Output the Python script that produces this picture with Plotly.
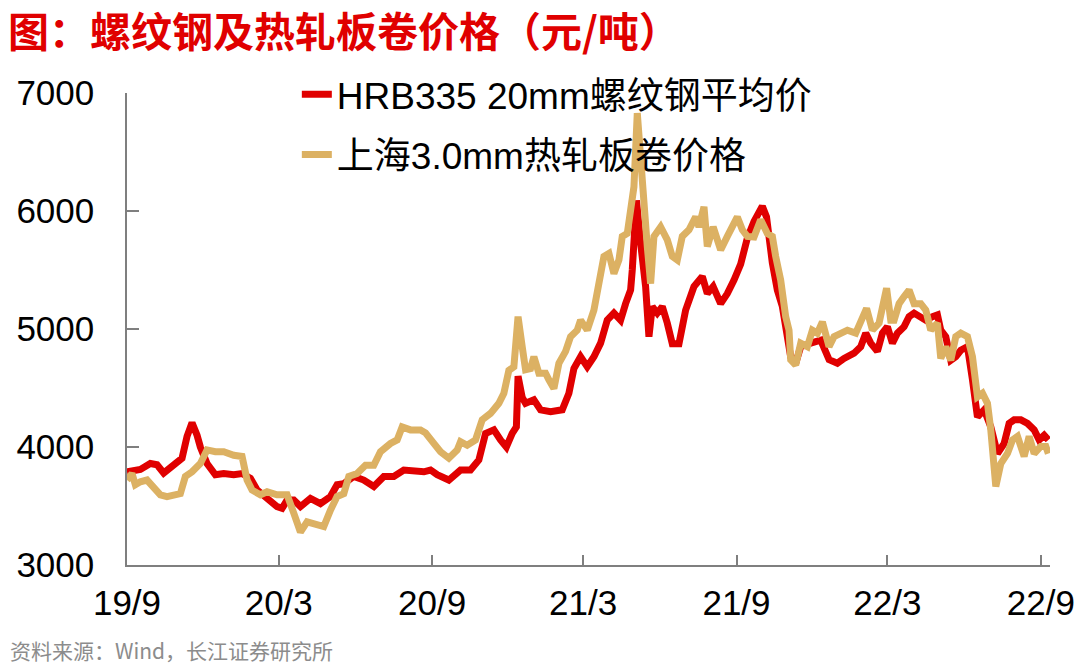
import plotly.graph_objects as go

# ---------------- data ----------------
hrb_dates = [
    "2019-09-01", "2019-09-09", "2019-09-17", "2019-09-29", "2019-10-07", "2019-10-15", "2019-10-23", "2019-10-31",
    "2019-11-06", "2019-11-12", "2019-11-18", "2019-11-24", "2019-11-28", "2019-12-06", "2019-12-16", "2019-12-26",
    "2020-01-07", "2020-01-17", "2020-01-27", "2020-02-04", "2020-02-16", "2020-02-28", "2020-03-05", "2020-03-11",
    "2020-03-19", "2020-03-27", "2020-04-08", "2020-04-20", "2020-05-02", "2020-05-10", "2020-05-18", "2020-05-30",
    "2020-06-11", "2020-06-23", "2020-07-05", "2020-07-17", "2020-07-29", "2020-08-10", "2020-08-22", "2020-08-30",
    "2020-09-07", "2020-09-21", "2020-10-05", "2020-10-17", "2020-10-27", "2020-11-04", "2020-11-14", "2020-11-22",
    "2020-11-29", "2020-12-06", "2020-12-11", "2020-12-13", "2020-12-15", "2020-12-18", "2020-12-22", "2021-01-01",
    "2021-01-09", "2021-01-21", "2021-02-04", "2021-02-12", "2021-02-18", "2021-02-26", "2021-03-06", "2021-03-14",
    "2021-03-22", "2021-03-30", "2021-04-07", "2021-04-15", "2021-04-21", "2021-04-27", "2021-04-29", "2021-05-01",
    "2021-05-04", "2021-05-09", "2021-05-15", "2021-05-19", "2021-05-23", "2021-05-29", "2021-06-04", "2021-06-10",
    "2021-06-16", "2021-06-24", "2021-07-02", "2021-07-12", "2021-07-22", "2021-07-28", "2021-08-04", "2021-08-13",
    "2021-08-21", "2021-08-29", "2021-09-06", "2021-09-14", "2021-09-22", "2021-10-02", "2021-10-07", "2021-10-14",
    "2021-10-20", "2021-10-26", "2021-10-30", "2021-11-05", "2021-11-11", "2021-11-17", "2021-11-29", "2021-12-11",
    "2021-12-21", "2021-12-31", "2022-01-08", "2022-01-20", "2022-01-28", "2022-02-03", "2022-02-09", "2022-02-17",
    "2022-02-23", "2022-03-01", "2022-03-07", "2022-03-13", "2022-03-21", "2022-03-27", "2022-04-02", "2022-04-08",
    "2022-04-16", "2022-04-24", "2022-04-30", "2022-05-04", "2022-05-10", "2022-05-16", "2022-05-22", "2022-05-28",
    "2022-06-05", "2022-06-11", "2022-06-17", "2022-06-25", "2022-07-03", "2022-07-11", "2022-07-19", "2022-07-25",
    "2022-07-31", "2022-08-08", "2022-08-16", "2022-08-24", "2022-08-30", "2022-09-05", "2022-09-10",
]
hrb_values = [
    3790, 3805, 3810, 3860, 3850, 3780, 3820, 3875,
    3905, 4090, 4205, 4100, 4000, 3860, 3765, 3775,
    3765, 3775, 3735, 3635, 3565, 3495, 3480, 3550,
    3550, 3495, 3565, 3520, 3580, 3680, 3690, 3750,
    3720, 3665, 3750, 3750, 3805, 3790, 3790, 3805,
    3765, 3720, 3805, 3805, 3890, 4115, 4145, 4060,
    4000, 4115, 4170, 4600, 4480, 4420, 4370, 4400,
    4315, 4300, 4315, 4455, 4665, 4765, 4680, 4765,
    4880, 5075, 5135, 5075, 5215, 5330, 5500, 5800,
    6090, 5730, 5360, 4935, 5190, 5135, 5190, 5050,
    4875, 4875, 5160, 5360, 5445, 5300, 5360, 5215,
    5300, 5415, 5550, 5770, 5910, 6040, 5950, 5560,
    5330, 5190, 5020, 4765, 4710, 4850, 4880, 4905,
    4740, 4710, 4750, 4795, 4850, 4965, 4880, 4810,
    4965, 5020, 4880, 4965, 5020, 5105, 5135, 5105,
    5075, 5105, 5120, 4990, 4935, 4735, 4765, 4820,
    4850, 4570, 4255, 4315, 4170, 3945, 4030, 4200,
    4230, 4230, 4200, 4145, 4060, 4100, 4060,
]

hrc_dates = [
    "2019-09-01", "2019-09-07", "2019-09-11", "2019-09-17", "2019-09-25", "2019-10-03", "2019-10-11", "2019-10-19",
    "2019-10-27", "2019-11-04", "2019-11-10", "2019-11-18", "2019-11-28", "2019-12-06", "2019-12-16", "2019-12-26",
    "2020-01-07", "2020-01-17", "2020-01-23", "2020-01-29", "2020-02-08", "2020-02-16", "2020-02-28", "2020-03-11",
    "2020-03-19", "2020-03-27", "2020-04-04", "2020-04-16", "2020-04-24", "2020-05-02", "2020-05-10", "2020-05-18",
    "2020-05-24", "2020-06-03", "2020-06-13", "2020-06-23", "2020-07-01", "2020-07-13", "2020-07-21", "2020-07-27",
    "2020-08-06", "2020-08-18", "2020-08-24", "2020-09-03", "2020-09-11", "2020-09-21", "2020-10-01", "2020-10-05",
    "2020-10-13", "2020-10-23", "2020-10-31", "2020-11-10", "2020-11-20", "2020-11-26", "2020-12-02", "2020-12-08",
    "2020-12-13", "2020-12-18", "2020-12-22", "2020-12-28", "2021-01-01", "2021-01-07", "2021-01-15", "2021-01-19",
    "2021-01-25", "2021-01-31", "2021-02-08", "2021-02-14", "2021-02-22", "2021-02-26", "2021-03-06", "2021-03-14",
    "2021-03-20", "2021-03-26", "2021-04-01", "2021-04-07", "2021-04-13", "2021-04-17", "2021-04-23", "2021-04-27",
    "2021-05-01", "2021-05-05", "2021-05-11", "2021-05-15", "2021-05-17", "2021-05-21", "2021-05-25", "2021-06-02",
    "2021-06-10", "2021-06-16", "2021-06-22", "2021-06-28", "2021-07-06", "2021-07-14", "2021-07-18", "2021-07-24",
    "2021-07-28", "2021-08-04", "2021-08-13", "2021-08-21", "2021-08-27", "2021-09-02", "2021-09-08", "2021-09-14",
    "2021-09-22", "2021-09-30", "2021-10-08", "2021-10-14", "2021-10-18", "2021-10-24", "2021-10-30", "2021-11-03",
    "2021-11-05", "2021-11-11", "2021-11-17", "2021-11-25", "2021-12-01", "2021-12-07", "2021-12-13", "2021-12-21",
    "2021-12-27", "2022-01-04", "2022-01-12", "2022-01-22", "2022-01-28", "2022-02-04", "2022-02-11", "2022-02-19",
    "2022-02-28", "2022-03-05", "2022-03-09", "2022-03-15", "2022-03-21", "2022-03-27", "2022-04-02", "2022-04-10",
    "2022-04-16", "2022-04-22", "2022-04-30", "2022-05-04", "2022-05-10", "2022-05-16", "2022-05-22", "2022-05-28",
    "2022-06-05", "2022-06-11", "2022-06-17", "2022-06-23", "2022-06-29", "2022-07-03", "2022-07-09", "2022-07-15",
    "2022-07-23", "2022-07-29", "2022-08-04", "2022-08-12", "2022-08-18", "2022-08-24", "2022-09-01", "2022-09-07",
    "2022-09-10",
]
hrc_values = [
    3720, 3775, 3680, 3705, 3720, 3665, 3595, 3580,
    3595, 3605, 3750, 3790, 3860, 3975, 3960, 3960,
    3930, 3920, 3720, 3635, 3595, 3620, 3595, 3595,
    3440, 3280, 3365, 3340, 3325, 3465, 3580, 3605,
    3750, 3775, 3845, 3845, 3960, 4030, 4060, 4170,
    4145, 4145, 4120, 4030, 3960, 3905, 3975, 4045,
    4015, 4060, 4230, 4285, 4370, 4455, 4650, 4680,
    5105, 4850, 4655, 4665, 4765, 4625, 4625, 4570,
    4495, 4710, 4810, 4935, 4990, 5075, 4990, 5160,
    5360, 5615, 5640, 5470, 5585, 5785, 5810, 6035,
    6205, 6830, 6205, 5925, 5700, 5385, 5785, 5865,
    5755, 5615, 5585, 5785, 5840, 5950, 5865, 6035,
    5700, 5865, 5670, 5785, 5865, 5950, 5840, 5785,
    5780, 5925, 5810, 5785, 5615, 5415, 5105, 4990,
    4740, 4695, 4880, 4850, 4990, 4965, 5060, 4850,
    4935, 4965, 4990, 4965, 5050, 5175, 4990, 5050,
    5345, 5075, 5075, 5215, 5275, 5330, 5215, 5215,
    5160, 4990, 5050, 4750, 4850, 4735, 4935, 4965,
    4935, 4765, 4425, 4455, 4370, 4145, 3665, 3860,
    3945, 4060, 4090, 3920, 4090, 3945, 4005, 4005,
    3945,
]

series_names = ["HRB335 20mm螺纹钢平均价", "上海3.0mm热轧板卷价格"]
tick_dates = ["2019-09-01", "2020-03-01", "2020-09-01", "2021-03-01", "2021-09-01", "2022-03-01", "2022-09-01"]
tick_labels = ["19/9", "20/3", "20/9", "21/3", "21/9", "22/3", "22/9"]
y_ticks = [3000, 4000, 5000, 6000, 7000]

title_text = "图：螺纹钢及热轧板卷价格（元/吨）"
source_text = "资料来源：Wind，长江证券研究所"

# ---------------- styling ----------------
RED = "#e00000"
TAN = "#dcb163"
AXIS = "#7f7f7f"
FONT = "Liberation Sans, Arial, Noto Sans CJK SC, sans-serif"
CJK = "Noto Sans CJK SC, Liberation Sans, sans-serif"

fig = go.Figure()
fig.add_trace(go.Scatter(
    x=hrb_dates, y=hrb_values, mode="lines", name=series_names[0],
    line=dict(color=RED, width=7), legendgroup="a",
))
fig.add_trace(go.Scatter(
    x=hrc_dates, y=hrc_values, mode="lines", name=series_names[1],
    line=dict(color=TAN, width=7), legendgroup="b",
))

fig.update_layout(
    width=1080, height=666,
    margin=dict(l=127, r=30, t=93, b=101, autoexpand=False),
    paper_bgcolor="white", plot_bgcolor="white",
    font=dict(family=FONT, size=35, color="#000000"),
    title=dict(
        text="<b>" + title_text + "</b>",
        font=dict(family=CJK, size=41, color=RED),
        x=8 / 1080, xanchor="left", xref="container",
        y=1 - 33 / 666, yanchor="middle", yref="container",
    ),
    showlegend=True,
    legend=dict(
        x=0.184, y=1.062, xanchor="left", yanchor="top",
        font=dict(family=FONT + ", " + CJK, size=37, color="#000000"),
        bgcolor="rgba(0,0,0,0)", traceorder="grouped", tracegroupgap=9,
        itemwidth=30,
    ),
    xaxis=dict(
        type="date",
        range=["2019-09-01", "2022-09-12"],
        tickvals=tick_dates, ticktext=tick_labels,
        ticks="inside", ticklen=10, tickwidth=1.5, tickcolor=AXIS,
        showline=True, linecolor=AXIS, linewidth=1.5,
        showgrid=False, zeroline=False,
        tickfont=dict(family=FONT, size=35, color="#000000"),
        ticklabelstandoff=6,
    ),
    yaxis=dict(
        range=[3000, 7000], tickvals=y_ticks,
        ticks="inside", ticklen=12, tickwidth=1.5, tickcolor=AXIS,
        showline=True, linecolor=AXIS, linewidth=1.5,
        showgrid=False, zeroline=False,
        tickfont=dict(family=FONT, size=35, color="#000000"),
        ticklabelstandoff=24,
    ),
    annotations=[dict(
        text=source_text, xref="paper", yref="paper",
        x=(8 - 127) / 923, y=(565 - 650) / 472, xanchor="left", yanchor="middle",
        showarrow=False, font=dict(family=CJK, size=21, color="#8c8c8c"),
    )],
)

fig.write_html(
    "out.html",
    config={"displayModeBar": False},
    post_script="document.body.style.margin='0';document.body.style.overflow='hidden';",
)
